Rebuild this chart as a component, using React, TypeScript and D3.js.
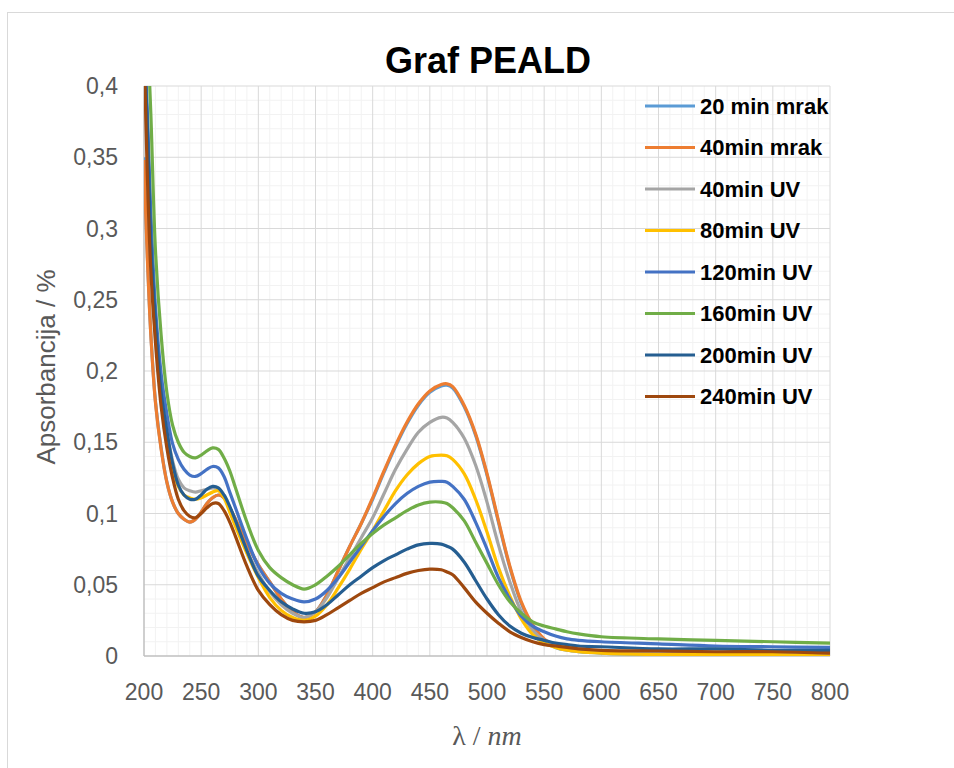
import React, { useEffect, useRef } from 'react';
import * as d3 from 'd3';

// wavelength samples (nm)
const wavelengths = [200, 203, 206, 210, 215, 220, 225, 230, 235, 240,
    245, 250, 255, 260, 265, 270, 275, 280, 290, 300,
    310, 320, 330, 340, 350, 360, 370, 380, 390, 400,
    410, 420, 430, 440, 450, 460, 465, 470, 480, 490,
    500, 510, 520, 530, 540, 550, 560, 570, 580, 600,
    650, 700, 750, 800];

const dark20 = [0.350, 0.280, 0.226, 0.179, 0.146, 0.122, 0.108, 0.100, 0.096, 0.094,
    0.096, 0.101, 0.107, 0.111, 0.113, 0.111, 0.104, 0.096, 0.079, 0.064,
    0.052, 0.040, 0.031, 0.027, 0.031, 0.043, 0.060, 0.077, 0.093, 0.110,
    0.129, 0.147, 0.163, 0.176, 0.185, 0.1895, 0.190, 0.188, 0.175, 0.155,
    0.127, 0.094, 0.062, 0.037, 0.021, 0.011, 0.006, 0.004, 0.003, 0.002,
    0.001, 0.001, 0.000, 0.000];

const dark40 = [0.348, 0.278, 0.225, 0.178, 0.145, 0.122, 0.108, 0.100, 0.096, 0.094,
    0.096, 0.101, 0.107, 0.111, 0.113, 0.111, 0.104, 0.096, 0.079, 0.064,
    0.052, 0.040, 0.031, 0.027, 0.031, 0.043, 0.060, 0.077, 0.093, 0.111,
    0.130, 0.148, 0.164, 0.177, 0.186, 0.1905, 0.191, 0.189, 0.176, 0.156,
    0.128, 0.095, 0.063, 0.038, 0.022, 0.012, 0.007, 0.005, 0.004, 0.003,
    0.002, 0.001, 0.001, 0.001];

const uv40 = [0.43, 0.37, 0.30, 0.235, 0.186, 0.158, 0.137, 0.124, 0.118, 0.116,
    0.115, 0.116, 0.117, 0.118, 0.117, 0.112, 0.103, 0.093, 0.074, 0.058,
    0.045, 0.036, 0.030, 0.027, 0.031, 0.041, 0.055, 0.069, 0.083, 0.097,
    0.114, 0.131, 0.145, 0.157, 0.164, 0.1675, 0.167, 0.164, 0.153, 0.134,
    0.108, 0.078, 0.052, 0.031, 0.018, 0.011, 0.007, 0.005, 0.004, 0.003,
    0.002, 0.002, 0.001, 0.001];

const uv80 = [0.43, 0.365, 0.295, 0.230, 0.182, 0.153, 0.132, 0.119, 0.113, 0.111,
    0.110, 0.111, 0.113, 0.115, 0.116, 0.111, 0.101, 0.091, 0.072, 0.055,
    0.041, 0.032, 0.027, 0.025, 0.028, 0.036, 0.048, 0.061, 0.075, 0.088,
    0.102, 0.116, 0.127, 0.135, 0.140, 0.141, 0.1405, 0.138, 0.128, 0.110,
    0.087, 0.062, 0.042, 0.026, 0.015, 0.009, 0.006, 0.004, 0.003, 0.002,
    0.001, 0.001, 0.001, 0.000];

const uv120 = [0.44, 0.38, 0.31, 0.245, 0.198, 0.170, 0.149, 0.138, 0.131, 0.127,
    0.126, 0.128, 0.131, 0.133, 0.132, 0.126, 0.115, 0.104, 0.082, 0.063,
    0.051, 0.044, 0.040, 0.038, 0.040, 0.046, 0.055, 0.066, 0.077, 0.088,
    0.098, 0.107, 0.114, 0.119, 0.122, 0.1225, 0.122, 0.119, 0.110, 0.094,
    0.075, 0.055, 0.040, 0.028, 0.021, 0.017, 0.014, 0.012, 0.011, 0.010,
    0.0085, 0.007, 0.0065, 0.006];

const uv160 = [0.50, 0.44, 0.38, 0.285, 0.225, 0.185, 0.162, 0.150, 0.143, 0.140,
    0.139, 0.141, 0.144, 0.146, 0.145, 0.139, 0.130, 0.118, 0.094, 0.074,
    0.062, 0.055, 0.050, 0.047, 0.050, 0.056, 0.063, 0.071, 0.079, 0.086,
    0.092, 0.097, 0.102, 0.106, 0.108, 0.108, 0.107, 0.104, 0.095, 0.080,
    0.065, 0.050, 0.038, 0.030, 0.024, 0.021, 0.019, 0.017, 0.0155, 0.0135,
    0.012, 0.011, 0.010, 0.009];

const uv200 = [0.43, 0.37, 0.29, 0.235, 0.185, 0.158, 0.135, 0.120, 0.113, 0.110,
    0.110, 0.113, 0.117, 0.119, 0.118, 0.113, 0.105, 0.095, 0.074, 0.056,
    0.046, 0.038, 0.033, 0.030, 0.031, 0.036, 0.043, 0.050, 0.056, 0.062,
    0.067, 0.071, 0.075, 0.078, 0.079, 0.0785, 0.077, 0.075, 0.066, 0.053,
    0.040, 0.029, 0.021, 0.016, 0.013, 0.011, 0.009, 0.008, 0.007, 0.0065,
    0.005, 0.005, 0.004, 0.004];

const uv240 = [0.43, 0.335, 0.27, 0.22, 0.175, 0.146, 0.125, 0.110, 0.102, 0.098,
    0.097, 0.100, 0.104, 0.107, 0.107, 0.102, 0.094, 0.084, 0.063, 0.046,
    0.036, 0.029, 0.025, 0.024, 0.025, 0.029, 0.034, 0.039, 0.044, 0.048,
    0.052, 0.055, 0.058, 0.060, 0.061, 0.0605, 0.059, 0.057, 0.048, 0.038,
    0.030, 0.023, 0.017, 0.013, 0.010, 0.008, 0.007, 0.006, 0.005, 0.004,
    0.0035, 0.003, 0.003, 0.002];

const seriesNames = ['20 min mrak', '40min mrak', '40min UV', '80min UV',
    '120min UV', '160min UV', '200min UV', '240min UV'];
const seriesValues = [dark20, dark40, uv40, uv80, uv120, uv160, uv200, uv240];
const seriesColors = ['#5B9BD5', '#ED7D31', '#A5A5A5', '#FFC000',
    '#4472C4', '#70AD47', '#255E91', '#9E480E'];

const xTicks = [200, 250, 300, 350, 400, 450, 500, 550, 600, 650, 700, 750, 800];
const yTicks = [0, 0.05, 0.1, 0.15, 0.2, 0.25, 0.3, 0.35, 0.4];

const App = () => {
    const svgRef = useRef(null);

    useEffect(() => {
        const svg = d3.select(svgRef.current);
        svg.selectAll('*').remove();

        const width = 954;
        const height = 768;
        const margin = { top: 86, right: 124, bottom: 112, left: 144 };
        const innerWidth = width - margin.left - margin.right;
        const innerHeight = height - margin.top - margin.bottom;
        const font = "'Liberation Sans', Arial, sans-serif";

        svg.append('rect').attr('width', width).attr('height', height).attr('fill', '#fff');
        // chart border
        svg.append('rect')
            .attr('x', 7.5).attr('y', 12.5)
            .attr('width', 960).attr('height', 780)
            .attr('fill', 'none').attr('stroke', '#d9d9d9');

        const g = svg.append('g')
            .attr('transform', `translate(${margin.left},${margin.top})`);

        const xScale = d3.scaleLinear().domain([200, 800]).range([0, innerWidth]);
        const yScale = d3.scaleLinear().domain([0, 0.4]).range([innerHeight, 0]);

        // minor grid
        g.append('g').selectAll('line')
            .data(d3.range(210, 800, 10).filter(v => v % 50 !== 0))
            .enter().append('line')
            .attr('x1', d => xScale(d)).attr('x2', d => xScale(d))
            .attr('y1', 0).attr('y2', innerHeight)
            .attr('stroke', '#f2f2f2').attr('stroke-width', 1);
        g.append('g').selectAll('line')
            .data(d3.range(1, 40).filter(v => v % 5 !== 0).map(v => v / 100))
            .enter().append('line')
            .attr('x1', 0).attr('x2', innerWidth)
            .attr('y1', d => yScale(d)).attr('y2', d => yScale(d))
            .attr('stroke', '#f2f2f2').attr('stroke-width', 1);

        // major grid
        g.append('g').selectAll('line')
            .data(xTicks.slice(1))
            .enter().append('line')
            .attr('x1', d => xScale(d)).attr('x2', d => xScale(d))
            .attr('y1', 0).attr('y2', innerHeight)
            .attr('stroke', '#d9d9d9').attr('stroke-width', 1);
        g.append('g').selectAll('line')
            .data(yTicks.slice(1))
            .enter().append('line')
            .attr('x1', 0).attr('x2', innerWidth)
            .attr('y1', d => yScale(d)).attr('y2', d => yScale(d))
            .attr('stroke', '#d9d9d9').attr('stroke-width', 1);

        // axis lines
        g.append('line').attr('x1', 0).attr('x2', innerWidth)
            .attr('y1', innerHeight).attr('y2', innerHeight)
            .attr('stroke', '#bfbfbf').attr('stroke-width', 1.5);
        g.append('line').attr('x1', 0).attr('x2', 0)
            .attr('y1', 0).attr('y2', innerHeight)
            .attr('stroke', '#bfbfbf').attr('stroke-width', 1.5);

        // tick labels
        const fmt = d3.formatLocale({ decimal: ',', thousands: '.', grouping: [3], currency: ['', ''] }).format('.2~f');
        g.append('g').selectAll('text')
            .data(yTicks)
            .enter().append('text')
            .attr('x', -26)
            .attr('y', d => yScale(d))
            .attr('dy', '0.35em')
            .attr('text-anchor', 'end')
            .style('font-family', font)
            .style('font-size', '23px')
            .style('fill', '#595959')
            .text(d => fmt(d));
        g.append('g').selectAll('text')
            .data(xTicks)
            .enter().append('text')
            .attr('x', d => xScale(d))
            .attr('y', innerHeight + 36)
            .attr('dy', '0.35em')
            .attr('text-anchor', 'middle')
            .style('font-family', font)
            .style('font-size', '23px')
            .style('fill', '#595959')
            .text(d => d);

        // series
        svg.append('defs').append('clipPath').attr('id', 'plot-clip')
            .append('rect').attr('width', innerWidth).attr('height', innerHeight);

        const line = d3.line()
            .x(d => xScale(d[0]))
            .y(d => yScale(d[1]))
            .curve(d3.curveCatmullRom.alpha(0.5));

        const lines = g.append('g').attr('clip-path', 'url(#plot-clip)');
        seriesValues.forEach((vals, i) => {
            lines.append('path')
                .datum(wavelengths.map((w, j) => [w, vals[j]]))
                .attr('fill', 'none')
                .attr('stroke', seriesColors[i])
                .attr('stroke-width', 3.2)
                .attr('stroke-linejoin', 'round')
                .attr('d', line);
        });

        // legend
        const legend = svg.append('g').attr('transform', 'translate(645,106)');
        seriesNames.forEach((name, i) => {
            const row = legend.append('g').attr('transform', `translate(0,${i * 41.5})`);
            row.append('line')
                .attr('x1', 0).attr('x2', 50)
                .attr('stroke', seriesColors[i]).attr('stroke-width', 3.2);
            row.append('text')
                .attr('x', 55).attr('dy', '0.35em')
                .style('font-family', font)
                .style('font-size', '22px')
                .style('font-weight', 'bold')
                .style('fill', '#000')
                .text(name);
        });

        // title
        svg.append('text')
            .attr('x', 488).attr('y', 60)
            .attr('dy', '0.35em')
            .attr('text-anchor', 'middle')
            .style('font-family', font)
            .style('font-size', '36px')
            .style('font-weight', 'bold')
            .style('fill', '#000')
            .text('Graf PEALD');

        // axis titles
        svg.append('text')
            .attr('transform', `translate(46,${margin.top + innerHeight / 2 - 4}) rotate(-90)`)
            .attr('dy', '0.35em')
            .attr('text-anchor', 'middle')
            .style('font-family', font)
            .style('font-size', '26px')
            .style('fill', '#595959')
            .text('Apsorbancija / %');

        const xt = svg.append('text')
            .attr('x', margin.left + innerWidth / 2).attr('y', 735)
            .attr('dy', '0.35em')
            .attr('text-anchor', 'middle')
            .style('font-family', "'Liberation Serif', 'Times New Roman', serif")
            .style('font-size', '28px')
            .style('fill', '#595959');
        xt.append('tspan').text('λ / ');
        xt.append('tspan').style('font-style', 'italic').text('nm');
    }, []);

    return (
        <svg ref={svgRef} width={954} height={768}
            style={{ position: 'absolute', left: 0, top: 0, display: 'block' }}></svg>
    );
};

export default App;
